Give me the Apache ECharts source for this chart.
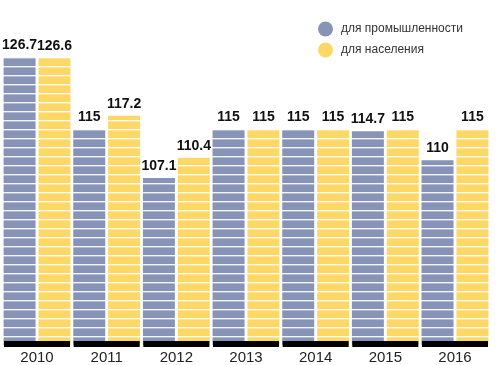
<!DOCTYPE html>
<html><head><meta charset="utf-8">
<script src="https://cdn.jsdelivr.net/npm/echarts@6/dist/echarts.min.js"></script>
<style>html,body{margin:0;padding:0;background:#fff}#c{width:497px;height:365px}</style>
</head><body><div id="c"></div>
<script>
const years = ['2010','2011','2012','2013','2014','2015','2016'];
const industry = [126.7, 115, 107.1, 115, 115, 114.7, 110];
const population = [126.6, 117.2, 110.4, 115, 115, 115, 115];
const seriesNames = ['для промышленности', 'для населения'];
const yMin = 80, yMax = 130;

function stripe(color) {
  const c = document.createElement('canvas');
  c.width = 4; c.height = 9;
  const g = c.getContext('2d');
  g.fillStyle = color; g.fillRect(0, 0, 4, 9);
  g.fillStyle = 'rgba(255,255,255,0.9)'; g.fillRect(0, 3, 4, 1);
  g.fillStyle = 'rgba(255,255,255,0.35)'; g.fillRect(0, 4, 4, 1);
  return c;
}
const blue = '#8794b8', yellow = '#fed866';

const chart = echarts.init(document.getElementById('c'), null, {renderer: 'canvas'});
const labelStyle = {show: true, position: 'top', distance: 5, color: '#111', fontFamily: 'Liberation Sans', fontWeight: 'bold', fontSize: 14};
chart.setOption({
  animation: false,
  grid: {left: 2.2, right: 7.2, top: 37, bottom: 16},
  legend: {
    orient: 'vertical', left: 313, top: 16.5, icon: 'circle',
    itemWidth: 15, itemHeight: 15, itemGap: 6,
    textStyle: {fontFamily: 'Liberation Sans', fontSize: 12, color: '#333', padding: [0, 0, 0, 3]},
    data: [{name: seriesNames[0], itemStyle: {color: blue}}, {name: seriesNames[1], itemStyle: {color: yellow}}]
  },
  xAxis: {
    type: 'category', data: years,
    axisLine: {show: false}, axisTick: {show: false},
    axisLabel: {margin: 5, fontFamily: 'Liberation Sans', fontSize: 15, color: '#222'}
  },
  yAxis: {type: 'value', min: yMin, max: yMax, show: false, splitLine: {show: false}},
  series: [
    {name: seriesNames[0], type: 'bar', data: industry, barWidth: 32, barGap: '9%',
     itemStyle: {color: {image: stripe(blue), repeat: 'repeat'}}, label: labelStyle},
    {name: seriesNames[1], type: 'bar', data: population, barWidth: 32, barGap: '9%',
     itemStyle: {color: {image: stripe(yellow), repeat: 'repeat'}}, label: labelStyle},
    {type: 'custom', data: years.map((y, i) => [i]), z: 5, silent: true,
     renderItem: function (params, api) {
       const p = api.coord([api.value(0), yMin]);
       const w = api.size([1, 0])[0];
       return {type: 'rect', shape: {x: p[0] - w / 2 + 1.8, y: p[1] - 4, width: w - 3.6, height: 6}, style: {fill: '#000'}};
     }}
  ]
});
</script></body></html>
